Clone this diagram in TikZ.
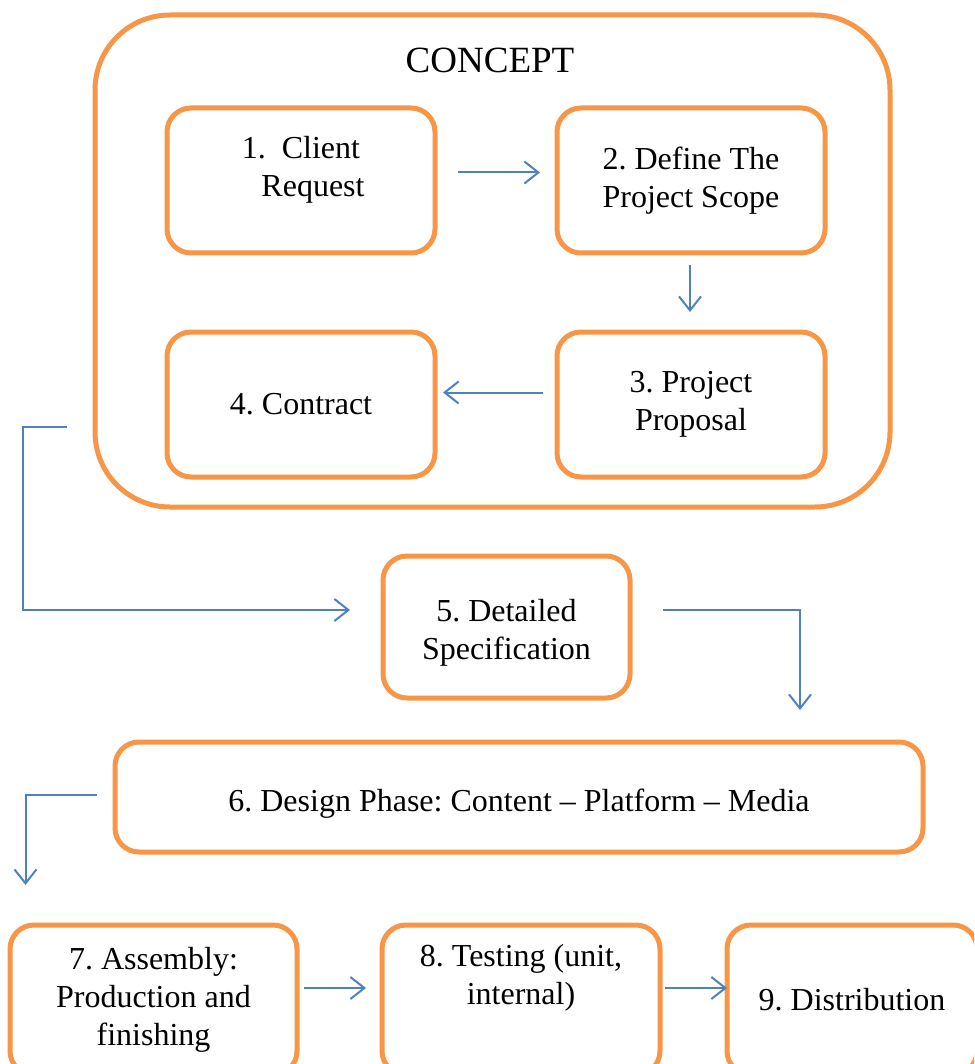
\documentclass[tikz,border=0pt]{standalone}
\usepackage{fontspec}
\setmainfont{Liberation Serif}
\usepackage{xcolor}
\usetikzlibrary{arrows.meta,positioning}

\definecolor{boxorange}{HTML}{F79646}
\definecolor{lineblue}{HTML}{4F81BD}

\begin{document}
\frenchspacing
\begin{tikzpicture}[x=1pt,y=-1pt,node distance=122pt,
   font=\fontsize{32}{38}\selectfont,
   stage/.style={draw=boxorange,line width=5pt,rounded corners=24pt,fill=white,
                 inner sep=0pt,outer sep=0pt,align=center},
   phase/.style={draw=boxorange,line width=5pt,rounded corners=75pt,
                 inner sep=0pt,outer sep=0pt,minimum width=795pt,minimum height=492pt},
   arr/.style={draw=lineblue,line width=2pt,
               -{Straight Barb[length=14pt,width=22pt,line width=2pt]}}]
  \useasboundingbox (0,0) rectangle (974,1064);
  \clip (0,0) rectangle (974,1064);

  % concept phase
  \node[phase] (concept) at (492.5,261) {};
  \node[font=\fontsize{37}{44}\selectfont] (title) at (490,60) {CONCEPT};
  \node[stage,minimum width=268pt,minimum height=145pt,text depth=28pt] (b1) at (301,180.5)
       {1.\ \ Client\\\ \ \ Request};
  \node[stage,minimum width=268pt,minimum height=145pt,right=122pt of b1] (b2)
       {2. Define The\\Project Scope};
  \node[stage,minimum width=268pt,minimum height=145pt,below=79pt of b2] (b3)
       {3. Project\\Proposal};
  \node[stage,minimum width=268pt,minimum height=145pt,left=122pt of b3] (b4)
       {4. Contract};
  \draw[arr,shorten <=23pt,shorten >=17pt] ([yshift=8pt]b1.east) -- ([yshift=8pt]b2.west);
  \draw[arr,shorten <=12pt,shorten >=20pt] ([xshift=-1pt]b2.south) -- ([xshift=-1pt]b3.north);
  \draw[arr,shorten <=14pt,shorten >=8pt] ([yshift=12pt]b3.west) -- ([yshift=12pt]b4.east);

  % specification and design
  \node[stage,minimum width=247pt,minimum height=142pt,text height=72pt] (b5) at (506.5,627)
       {5. Detailed\\Specification};
  \node[stage,minimum width=808pt,minimum height=110pt,text height=35pt] (b6) at (519,797)
       {6. Design Phase: Content -- Platform -- Media};
  \draw[arr,shorten <=28pt,shorten >=33pt] ([shift={(0,-80)}]concept.south west)
       -- ++(-72,0) |- ([yshift=17pt]b5.west);
  \draw[arr,shorten <=33pt,shorten >=32pt] ([yshift=17pt]b5.east)
       -| ([xshift=281pt]b6.north);

  % production
  \node[stage,minimum width=287pt,minimum height=150pt] (b7) at (153.5,1000)
       {7. Assembly:\\Production and\\finishing};
  \node[stage,minimum width=278pt,minimum height=150pt,text depth=52pt,right=85pt of b7] (b8)
       {8. Testing (unit,\\internal)};
  \node[stage,minimum width=250pt,minimum height=150pt,right=67pt of b8] (b9)
       {9. Distribution};
  \draw[arr,shorten <=18pt,shorten >=40pt] ([yshift=2pt]b6.west)
       -| ([xshift=-128pt]b7.north);
  \draw[arr,shorten <=7pt,shorten >=16pt] ([yshift=12pt]b7.east) -- ([yshift=12pt]b8.west);
  \draw[arr,shorten <=5pt,shorten >=0pt] ([yshift=12pt]b8.east) -- ([yshift=12pt]b9.west);
\end{tikzpicture}
\end{document}
